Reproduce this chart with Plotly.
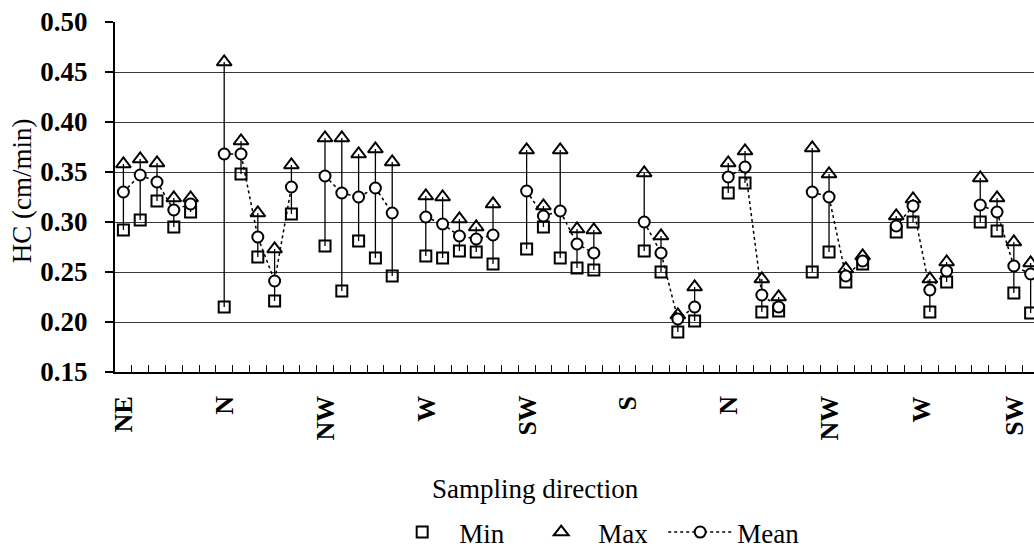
import plotly.graph_objects as go

# Sample positions along the sampling transect (gaps separate direction groups)
sample_no = list(range(55))

hc_min = [0.292, 0.302, 0.321, 0.295, 0.310, None,
          0.215, 0.348, 0.265, 0.221, 0.308, None,
          0.276, 0.231, 0.281, 0.264, 0.246, None,
          0.266, 0.264, 0.271, 0.270, 0.258, None,
          0.273, 0.295, 0.264, 0.254, 0.252, None, None,
          0.271, 0.250, 0.190, 0.201, None,
          0.329, 0.339, 0.210, 0.211, None,
          0.250, 0.270, 0.240, 0.258, None,
          0.290, 0.300, 0.210, 0.240, None,
          0.300, 0.291, 0.229, 0.209]

hc_mean = [0.330, 0.347, 0.340, 0.312, 0.318, None,
           0.368, 0.368, 0.285, 0.241, 0.335, None,
           0.346, 0.329, 0.325, 0.334, 0.309, None,
           0.305, 0.298, 0.286, 0.283, 0.287, None,
           0.331, 0.306, 0.311, 0.278, 0.269, None, None,
           0.300, 0.269, 0.203, 0.215, None,
           0.345, 0.355, 0.227, 0.215, None,
           0.330, 0.325, 0.246, 0.261, None,
           0.296, 0.316, 0.232, 0.251, None,
           0.317, 0.310, 0.256, 0.248]

hc_max = [0.358, 0.363, 0.359, 0.324, 0.324, None,
          0.460, 0.381, 0.309, 0.273, 0.357, None,
          0.384, 0.384, 0.368, 0.373, 0.360, None,
          0.326, 0.325, 0.303, 0.295, 0.318, None,
          0.372, 0.316, 0.372, 0.293, 0.292, None, None,
          0.349, 0.286, 0.207, 0.235, None,
          0.359, 0.371, 0.243, 0.225, None,
          0.374, 0.348, 0.253, 0.266, None,
          0.306, 0.323, 0.243, 0.260, None,
          0.344, 0.324, 0.280, 0.259]

# Direction labels and the sample position each one sits under
direction_names = ["NE", "N", "NW", "W", "SW", "S", "N", "NW", "W", "SW"]
direction_at = [0, 6, 12, 18, 24, 30, 36, 42, 47.5, 53]

y_ticks = [0.15, 0.20, 0.25, 0.30, 0.35, 0.40, 0.45, 0.50]

FONT = "Liberation Serif"
INK = "black"

# Vertical range bars joining min and max for every sample
bar_x, bar_y = [], []
for x, lo, hi in zip(sample_no, hc_min, hc_max):
    if lo is None:
        continue
    bar_x += [x, x, None]
    bar_y += [lo, hi, None]

fig = go.Figure()
fig.add_trace(go.Scatter(
    x=bar_x, y=bar_y, mode="lines",
    line=dict(color=INK, width=1.3),
    showlegend=False, hoverinfo="skip"))

fig.add_trace(go.Scatter(
    x=sample_no, y=hc_min, mode="markers", name="Min",
    marker=dict(symbol="square-open", size=11, color=INK,
                line=dict(color=INK, width=2))))

fig.add_trace(go.Scatter(
    x=sample_no, y=hc_max, mode="markers", name="Max",
    marker=dict(symbol="triangle-up-open", size=13, color=INK,
                line=dict(color=INK, width=2))))

fig.add_trace(go.Scatter(
    x=sample_no, y=hc_mean, mode="lines+markers", name="Mean",
    connectgaps=False,
    line=dict(color=INK, width=1.5, dash="dot"),
    marker=dict(symbol="circle", size=11, color="white",
                line=dict(color=INK, width=2))))

annotations = []
for name, pos in zip(direction_names, direction_at):
    annotations.append(dict(
        x=pos, xref="x", y=0, yref="paper", yanchor="top", xanchor="center",
        yshift=-22, text=name, textangle=-90, showarrow=False,
        font=dict(family=FONT, size=26, color=INK, weight="bold")))

annotations.append(dict(
    x=-0.101, xref="paper", y=0.517, yref="paper", text="HC (cm/min)",
    textangle=-90, showarrow=False, xanchor="center", yanchor="middle",
    font=dict(family=FONT, size=27, color=INK)))

annotations.append(dict(
    x=0.458, xref="paper", y=-0.334, yref="paper", text="Sampling direction",
    showarrow=False, xanchor="center", yanchor="middle",
    font=dict(family=FONT, size=27, color=INK)))

fig.update_layout(
    width=1034, height=557,
    margin=dict(l=115, r=0, t=22, b=185),
    paper_bgcolor="white", plot_bgcolor="white",
    font=dict(family=FONT, size=27, color=INK),
    annotations=annotations,
    showlegend=True,
    legend=dict(
        orientation="h", x=0.294, xanchor="left", y=-0.46, yanchor="middle",
        font=dict(family=FONT, size=27, color=INK),
        itemwidth=64,
        entrywidth=60, entrywidthmode="pixels",
        bgcolor="rgba(0,0,0,0)", traceorder="normal"),
    xaxis=dict(
        range=[-0.5, 54.2],
        tickmode="array",
        tickvals=[i + 0.5 for i in range(-1, 55)],
        showticklabels=False,
        ticks="inside", ticklen=7, tickwidth=1.3, tickcolor=INK,
        showline=True, linecolor=INK, linewidth=2,
        showgrid=False, zeroline=False),
    yaxis=dict(
        range=[0.15, 0.50],
        tickmode="array", tickvals=y_ticks,
        ticktext=[f"{v:.2f}" for v in y_ticks],
        tickfont=dict(family=FONT, size=27, color=INK, weight="bold"),
        ticks="outside", ticklen=8, tickwidth=1.5, tickcolor=INK,
        ticklabelstandoff=12,
        showline=True, linecolor=INK, linewidth=2,
        showgrid=True, gridcolor="#3a3a3a", gridwidth=1,
        zeroline=False),
)

fig.write_html("out.html")
